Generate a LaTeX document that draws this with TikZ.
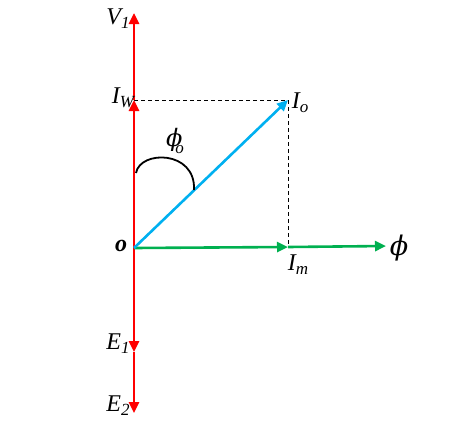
\documentclass[tikz,border=0pt]{standalone}
\usepackage{fontspec}
\setmainfont{Liberation Serif}
\usetikzlibrary{arrows.meta}
\definecolor{vred}{RGB}{255,0,0}
\definecolor{vblue}{RGB}{0,176,240}
\definecolor{vgreen}{RGB}{0,176,80}
\newcommand{\sbs}[1]{\raisebox{-0.35ex}{\fontsize{17}{18}\selectfont #1}}
\tikzset{
  vec/.style={line width=2.6pt,-{Triangle[length=11pt,width=10pt]}},
  lbl/.style={font=\fontsize{24}{26}\selectfont\itshape,inner sep=0pt},
  proj/.style={dashed,line width=0.8pt,dash pattern=on 4pt off 3pt}
}
\begin{document}
\begin{tikzpicture}[x=1pt,y=-1pt]
\useasboundingbox (0,0) rectangle (465,423);
\coordinate (O) at (134,248);
\coordinate (V1) at (134,13);
\coordinate (Iw) at (134,100);
\coordinate (E1) at (134,352);
\coordinate (E2) at (134,413);
\coordinate (Io) at (288,100);
\coordinate (Im) at (288,247);
\coordinate (Phi) at (386,246);
\coordinate (A1) at (136,173);
\coordinate (A2) at (194,190);
% dashed projections
\draw[proj] (Iw) -- (Io);
\draw[proj] (Io) -- (Im);
% red vectors
\draw[vec,vred] (O) -- (Iw);
\draw[vec,vred] (Iw) -- (V1);
\draw[vec,vred] (O) -- (E1);
\draw[vec,vred] (E1) -- (E2);
% green
\draw[vec,vgreen] (O) -- (Im);
\draw[vec,vgreen] (Im) -- (Phi);
% blue
\draw[vec,vblue] (O) -- (Io);
% angle arc
\draw[line width=1.8pt] (A1) .. controls (140,150) and (196,150) .. (A2);
% labels
\node[lbl] (lV1) at (118,19) {V\sbs{1}};
\node[lbl] (lIw) at (123,98) {I\sbs{W}};
\node[lbl] (lIo) at (300,103) {I\sbs{o}};
\node[lbl] (lphio) at (175,141) {\fontspec{DejaVu Serif}\fontsize{24}{26}\selectfont\itshape ϕ\hspace{-7pt}\raisebox{-0.6ex}{\fontspec{Liberation Serif}\fontsize{17}{17}\selectfont\itshape o}};
\node[lbl,font=\fontsize{24}{26}\selectfont\bfseries\itshape] (lO) at (121,246) {o};
\node[lbl] (lIm) at (298,265) {I\sbs{m}};
\node[lbl] (lphi) at (399,248) {\fontspec{DejaVu Serif}\fontsize{27}{28}\selectfont\itshape ϕ};
\node[lbl] (lE1) at (118,344) {E\sbs{1}};
\node[lbl] (lE2) at (118,406) {E\sbs{2}};
\end{tikzpicture}
\end{document}
